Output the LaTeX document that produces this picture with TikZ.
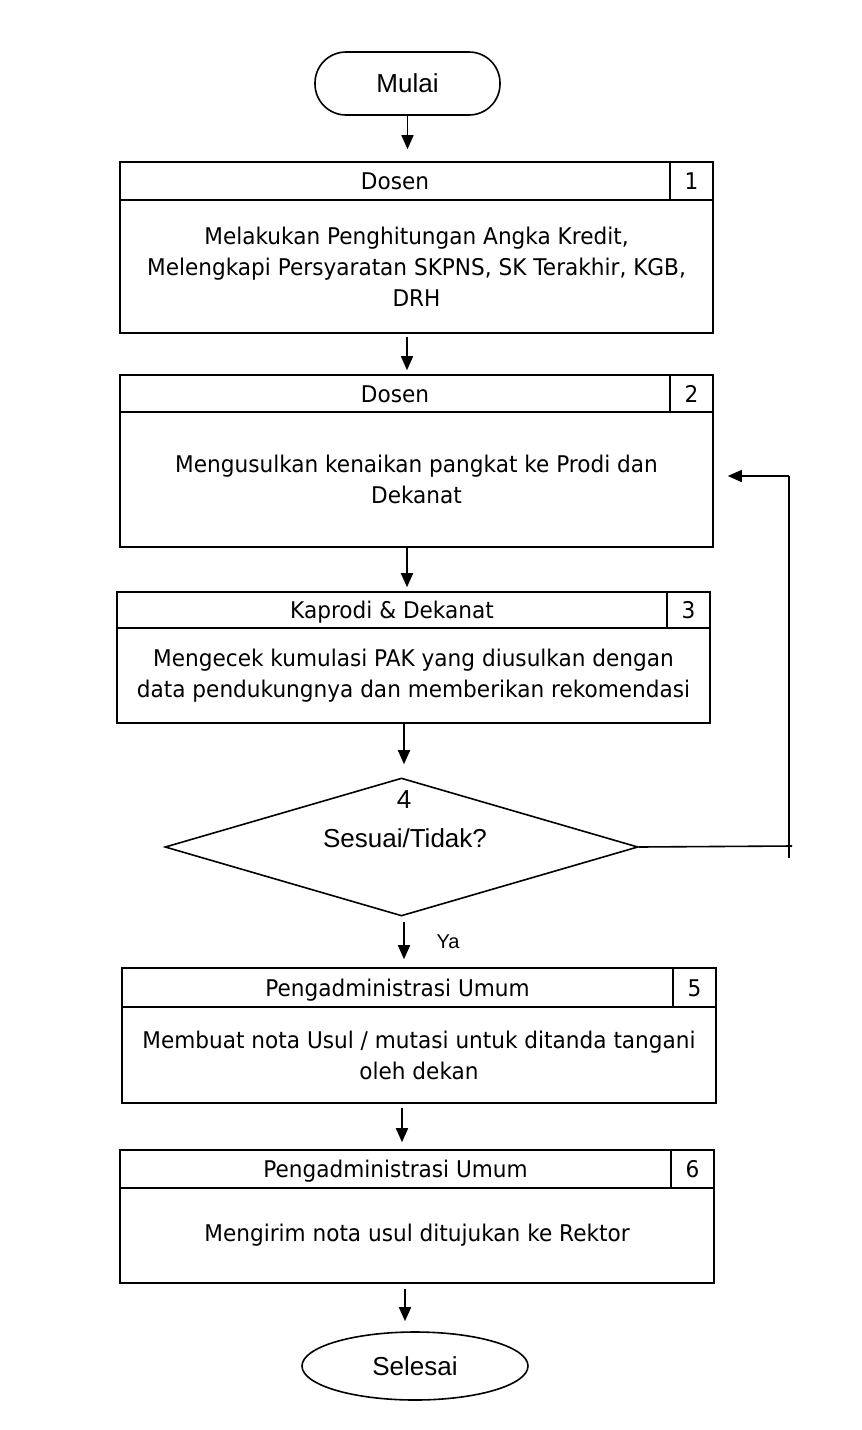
\documentclass[tikz,border=0pt]{standalone}
\usepackage{fontspec}
\setmainfont{DejaVu Sans}[FakeStretch=0.94]
\newfontfamily\arialf{Liberation Sans}
\usetikzlibrary{shapes.geometric,arrows.meta,fit}

\newcommand\procbox[9]{%
  \node[pbox, fit={(#2,#3) (#4,#5)}] (#1) {};
  \draw[pline] (#2,#6) -- (#4,#6);
  \draw[pline] ({#4-43},#3) -- ({#4-43},#6);
  \node[htext] (#1h) at ({(#2+#4-43)/2},{(#3+#6)/2}) {#7};
  \node[htext] (#1n) at ({#4-21.5},{(#3+#6)/2}) {#8};
  \node[btext] (#1b) at ({(#2+#4)/2},{(#6+#5)/2}) {#9};
}

\begin{document}
\begin{tikzpicture}[x=1pt,y=-1pt,
  pline/.style={line width=1.6pt},
  pbox/.style={draw, line width=1.6pt, rectangle, inner sep=0pt},
  htext/.style={inner sep=0pt, text height=17pt, text depth=0pt, font=\fontsize{23}{31}\selectfont},
  btext/.style={inner sep=0pt, align=center, font=\fontsize{23}{31}\selectfont},
  arr/.style={line width=1.6pt, -{Triangle[length=14pt,width=12pt]}},
  atext/.style={font=\arialf\fontsize{26}{30}\selectfont, inner sep=0pt}
]
\useasboundingbox (0,0) rectangle (862,1430);
\fill[white] (0,0) rectangle (862,1430);

% start
\node[draw, line width=1.6pt, rectangle, rounded corners=31pt, minimum width=185pt, minimum height=63pt, inner sep=0pt, atext] (mulai) at (407.5,83.5) {Mulai};

\procbox{b1}{120}{162}{713}{333}{200}{Dosen}{1}{Melakukan Penghitungan Angka Kredit,\\Melengkapi Persyaratan SKPNS, SK Terakhir, KGB,\\DRH}
\procbox{b2}{120}{375}{713}{547}{412}{Dosen}{2}{Mengusulkan kenaikan pangkat ke Prodi dan\\Dekanat}
\procbox{b3}{117}{592}{710}{723}{628}{Kaprodi \& Dekanat}{3}{Mengecek kumulasi PAK yang diusulkan dengan\\data pendukungnya dan memberikan rekomendasi}

\node[draw, line width=1.6pt, diamond, minimum width=473pt, minimum height=138pt, inner sep=0pt] (dia) at (401.5,847) {};
\node[atext] (dnum) at (404,800) {4};
\node[atext] (dtxt) at (405,838) {Sesuai/Tidak?};

\procbox{b5}{122}{968}{716}{1103}{1007}{Pengadministrasi Umum}{5}{Membuat nota Usul / mutasi untuk ditanda tangani\\oleh dekan}
\procbox{b6}{120}{1150}{714}{1283}{1188}{Pengadministrasi Umum}{6}{Mengirim nota usul ditujukan ke Rektor}

\node[draw, line width=1.6pt, ellipse, minimum width=226pt, minimum height=68pt, inner sep=0pt, atext] (selesai) at (415,1366) {Selesai};

% arrows
\draw[arr, shorten >=12pt] (mulai.south) -- (mulai.south |- b1.north);
\draw[arr, shorten <=3pt, shorten >=4pt] ([xshift=-9.5pt]b1.south) -- ([xshift=-9.5pt]b1.south |- b2.north);
\draw[arr, shorten >=4pt] ([xshift=-9.5pt]b2.south) -- ([xshift=-9.5pt]b2.south |- b3.north);
\draw[arr, shorten >=13pt] ([xshift=-9.5pt]b3.south) -- ([xshift=-9.5pt]b3.south |- dia.north);
\draw[arr, shorten <=5pt, shorten >=8pt] ([xshift=2.5pt]dia.south) -- ([xshift=2.5pt]dia.south |- b5.north);
\node[font=\arialf\fontsize{20}{24}\selectfont, inner sep=0pt] (ya) at (448,942) {Ya};
\draw[arr, shorten <=4pt, shorten >=7pt] ([xshift=-17pt]b5.south) -- ([xshift=-17pt]b5.south |- b6.north);
\draw[arr, shorten <=5pt, shorten >=10pt] ([xshift=-12pt]b6.south) -- ([xshift=-12pt]b6.south |- selesai.north);

% feedback
\coordinate (fbR) at (792,846);
\coordinate (fbTop) at (789,476);
\coordinate (fbBot) at (789,858);
\draw[pline] (dia.east) -- (fbR);
\draw[pline] (fbBot) -- (fbTop);
\draw[arr, shorten >=14pt] (fbTop) -- (b2.east |- fbTop);
\end{tikzpicture}
\end{document}
